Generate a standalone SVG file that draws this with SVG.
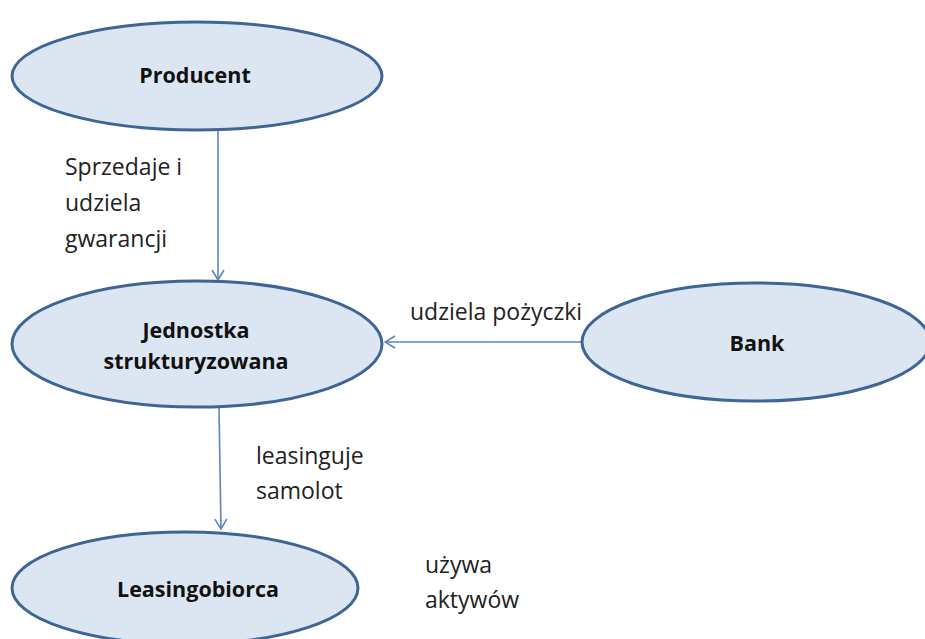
<svg xmlns="http://www.w3.org/2000/svg" width="925" height="639" viewBox="0 0 925 639">
<defs>
<style>
.node{fill:#dce6f2;stroke:#3e6594;stroke-width:3}
.nl{font-family:"Open Sans","Liberation Sans",sans-serif;font-weight:bold;font-size:21.5px;fill:#111;text-anchor:middle}
.el{font-family:"Open Sans","Liberation Sans",sans-serif;font-size:23px;fill:#222}
.conn{stroke:#5a86c0;stroke-width:1.6;fill:none}
</style>
<marker id="arr" viewBox="0 0 12 14" refX="11" refY="7" markerWidth="12" markerHeight="14" markerUnits="userSpaceOnUse" orient="auto">
<path d="M1,1 L11,7 L1,13" fill="none" stroke="#5a86c0" stroke-width="1.6"/>
</marker>
</defs>
<rect width="925" height="639" fill="#fff"/>
<g id="connectors">
<line class="conn" x1="218" y1="131" x2="218" y2="280" marker-end="url(#arr)"/>
<line class="conn" x1="582" y1="342" x2="385" y2="342" marker-end="url(#arr)"/>
<line class="conn" x1="219" y1="408" x2="221" y2="529" marker-end="url(#arr)"/>
<text class="el" x="65" y="175">Sprzedaje i</text>
<text class="el" x="65" y="211">udziela</text>
<text class="el" x="65" y="247">gwarancji</text>
<text class="el" x="410" y="320">udziela pożyczki</text>
<text class="el" x="256" y="464">leasinguje</text>
<text class="el" x="256" y="499">samolot</text>
<text class="el" x="425" y="573">używa</text>
<text class="el" x="425" y="608">aktywów</text>
</g>
<g id="producent">
<ellipse class="node" cx="197" cy="76" rx="185" ry="54"/>
<text class="nl" x="195" y="83">Producent</text>
</g>
<g id="jednostka">
<ellipse class="node" cx="197" cy="344" rx="185" ry="63"/>
<text class="nl" x="196" y="338">Jednostka</text>
<text class="nl" x="196" y="369">strukturyzowana</text>
</g>
<g id="bank">
<ellipse class="node" cx="756" cy="342" rx="174" ry="59"/>
<text class="nl" x="757" y="351">Bank</text>
</g>
<g id="leasingobiorca">
<ellipse class="node" cx="185" cy="588" rx="173" ry="56"/>
<text class="nl" x="198" y="597">Leasingobiorca</text>
</g>
</svg>
